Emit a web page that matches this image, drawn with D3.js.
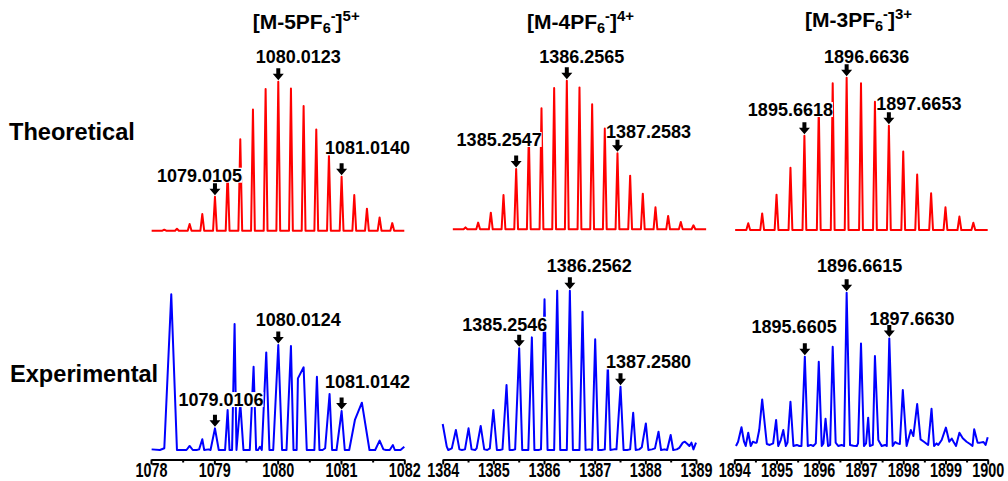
<!DOCTYPE html>
<html><head><meta charset="utf-8">
<script src="https://cdn.jsdelivr.net/npm/d3@7"></script>
<style>
body{margin:0;background:#fff;}
svg{display:block;}
text{font-family:"Liberation Sans",Arial,sans-serif;font-weight:bold;fill:#000;}
</style>
</head><body>
<svg id="c" width="1008" height="481"></svg>
<script>
// ---------------- DATA ----------------
const rowLabels = ["Theoretical", "Experimental"];
const ionCharges = ["5", "4", "3"];           // [M-nPF6-]n+

const xDomain1 = [1078, 1082];
const xDomain2 = [1384, 1389];
const xDomain3 = [1894, 1900];
const majorTicks1 = [1078, 1079, 1080, 1081, 1082];
const majorTicks2 = [1384, 1385, 1386, 1387, 1388, 1389];
const majorTicks3 = [1894, 1895, 1896, 1897, 1898, 1899, 1900];
const minorTicks1 = [1078.5, 1079.5, 1080.5, 1081.5];
const minorTicks2 = [1384.5, 1385.5, 1386.5, 1387.5, 1388.5];
const minorTicks3 = [1894.5, 1895.5, 1896.5, 1897.5, 1898.5, 1899.5];

// Theoretical isotope patterns (relative intensity %)
const theoRange1 = [1078.01, 1082.0];
const theoMz1 = [1078.21,1078.41,1078.61,1078.81,1079.01,1079.21,1079.41,1079.61,1079.81,1080.01,1080.21,1080.41,1080.61,1080.81,1081.01,1081.21,1081.41,1081.61,1081.81];
const theoInt1 = [0.7,1.3,4.5,11.2,22.8,40,61.3,81.4,95.1,100,95.5,83.7,68,51.2,36.2,23.9,14.8,8.9,5.1];

const theoRange2 = [1384.2, 1389.2];
const theoMz2 = [1384.45,1384.70,1384.95,1385.20,1385.45,1385.70,1385.95,1386.20,1386.45,1386.70,1386.95,1387.20,1387.45,1387.70,1387.95,1388.20,1388.45,1388.70,1388.95];
const theoInt2 = [1.3,4.5,11.2,23.1,40.6,64,81.4,95.1,100,95.5,84.1,67.9,51.1,36.1,24,14.8,9,4.9,2.7];

const theoRange3 = [1894.02, 1900.0];
const theoMz3 = [1894.33,1894.66,1895.00,1895.33,1895.66,1896.00,1896.33,1896.66,1897.00,1897.33,1897.66,1898.00,1898.33,1898.66,1899.00,1899.33,1899.66];
const theoInt3 = [4.4,10.9,23.2,40.9,61.9,81,96.3,100,96.3,84.2,68.5,51.6,36.5,24.1,14.9,8.8,4.8];

// Experimental spectra (relative intensity %)
const expMz1 = [1078.01,1078.14,1078.21,1078.32,1078.41,1078.56,1078.61,1078.66,1078.72,1078.76,1078.81,1078.84,1078.91,1078.94,1079.01,1079.07,1079.17,1079.21,1079.24,1079.28,1079.32,1079.35,1079.41,1079.46,1079.56,1079.62,1079.66,1079.69,1079.72,1079.75,1079.82,1079.87,1079.93,1080.01,1080.07,1080.14,1080.21,1080.25,1080.30,1080.32,1080.41,1080.46,1080.54,1080.58,1080.62,1080.66,1080.71,1080.75,1080.82,1080.86,1080.93,1081.01,1081.06,1081.13,1081.22,1081.33,1081.45,1081.54,1081.61,1081.67,1081.71,1081.74,1081.77,1081.82,1081.85,1081.91,1081.94,1082.00];
const expInt1 = [0.4,0,1.1,100,0,0,2.6,0,0,0.4,6.9,0,0.4,0,13.9,0,0,25.7,0,0,80.9,0,30,0,0,53.5,0,0,2.1,0,62.7,0,0,67.4,0,0,66.8,0,0,46,53.1,0,0,0,47.1,0,0,1.1,36,0,0,25,0,0,19.3,30.4,0,0,6,0.4,0,0,0,3.2,0,0,0,2.1];

const expMz2 = [1384.00,1384.08,1384.11,1384.18,1384.26,1384.33,1384.38,1384.44,1384.51,1384.57,1384.64,1384.67,1384.75,1384.82,1384.88,1384.93,1385.00,1385.07,1385.13,1385.18,1385.26,1385.32,1385.38,1385.43,1385.51,1385.57,1385.63,1385.69,1385.76,1385.81,1385.89,1385.94,1386.01,1386.07,1386.15,1386.20,1386.26,1386.32,1386.38,1386.45,1386.51,1386.57,1386.64,1386.70,1386.76,1386.82,1386.89,1386.95,1387.01,1387.07,1387.14,1387.20,1387.26,1387.31,1387.38,1387.43,1387.51,1387.57,1387.64,1387.70,1387.76,1387.81,1387.88,1387.93,1388.01,1388.06,1388.13,1388.19,1388.26,1388.31,1388.38,1388.43,1388.50,1388.55,1388.62,1388.67,1388.74,1388.78,1388.83,1388.87,1388.91,1388.95,1389.00];
const expInt2 = [16.3,2.1,0,1.0,12.6,0.4,0,0.4,13.6,0.4,0,1.0,15.1,0.4,0,1.0,25.1,0,0,0.4,40.8,0,0,0.4,63.8,0,0,0,70.7,0,0,0.4,94.6,0,0,0,100,0,0,0,100,0,0,0,86.8,0,0.4,0,69.5,0,0,0.4,54,0,0.4,0.4,39.7,0,0,0.4,23.4,0,0.4,1.7,16.7,0,0.4,1.0,11.5,0,0.4,0,9.4,0,0.4,1.3,4.6,5.2,3.8,2.5,4.6,0.4,4.6];

const expMz3 = [1894.04,1894.09,1894.17,1894.23,1894.27,1894.33,1894.39,1894.44,1894.49,1894.53,1894.59,1894.66,1894.77,1894.84,1894.92,1894.99,1895.04,1895.10,1895.16,1895.22,1895.26,1895.33,1895.40,1895.48,1895.54,1895.59,1895.67,1895.74,1895.81,1895.87,1895.93,1896.00,1896.07,1896.11,1896.16,1896.22,1896.27,1896.33,1896.40,1896.46,1896.54,1896.60,1896.66,1896.74,1896.82,1896.90,1896.93,1897.00,1897.07,1897.12,1897.17,1897.21,1897.28,1897.33,1897.41,1897.49,1897.57,1897.61,1897.67,1897.75,1897.81,1897.86,1897.92,1897.99,1898.08,1898.18,1898.24,1898.33,1898.41,1898.49,1898.59,1898.67,1898.73,1898.79,1898.83,1898.91,1899.01,1899.09,1899.15,1899.19,1899.25,1899.33,1899.41,1899.50,1899.58,1899.64,1899.68,1899.76,1899.82,1899.90,1899.95,1900.00];
const expInt3 = [0,2.8,12.2,2.8,0,8.7,0,2.8,2.2,2.2,10.4,30.4,1.3,0.7,1.7,17.0,0,3.9,10.4,0,2.2,28.9,0,0.7,0,0,58.3,0,0.7,0,1.7,55.0,0,1.7,17.8,0,0.7,64.8,2.2,0,0.7,0,100,0.7,0.2,0,1.7,66.9,0,1.7,18.5,0,0.7,58.7,3.9,0,0.7,0,70.2,0,2.6,1.7,1.3,36.5,0,10.4,6.5,27.4,4.3,2.8,0.7,24.3,0,1.7,0.7,3.9,12.0,2.8,4.8,2.8,0,8.7,5.0,2.8,1.3,0,10.9,2.2,2.2,2.6,0.7,5.7];

// Annotated peaks (plotted position, label)
const theoAnnMz1 = [1079.01, 1080.01, 1081.01];
const theoAnnText1 = ["1079.0105", "1080.0123", "1081.0140"];
const theoAnnMz2 = [1385.45, 1386.45, 1387.45];
const theoAnnText2 = ["1385.2547", "1386.2565", "1387.2583"];
const theoAnnMz3 = [1895.66, 1896.66, 1897.66];
const theoAnnText3 = ["1895.6618", "1896.6636", "1897.6653"];
const expAnnMz1 = [1079.01, 1080.01, 1081.01];
const expAnnText1 = ["1079.0106", "1080.0124", "1081.0142"];
const expAnnMz2 = [1385.51, 1386.51, 1387.51];
const expAnnText2 = ["1385.2546", "1386.2562", "1387.2580"];
const expAnnMz3 = [1895.67, 1896.66, 1897.67];
const expAnnText3 = ["1895.6605", "1896.6615", "1897.6630"];

// ---------------- LAYOUT (positions / styles) ----------------
const layout = {
  panelX: [[151, 404.3], [442.7, 696], [734.3, 987.7]],
  topY: [[230.7, 81.7], [229.3, 80.7], [230, 77.7]],
  botY: [[450, 294.3], [450, 290.7], [446, 292.7]],
  axisY: 459.5,
  titleX: [252.7, 527, 805],
  titleY: [29.3, 29.3, 27],
  rowLabelPos: [[9, 140], [10, 381.7]],
  theoLabelOff: [
    [[-15.5, -15], [20, -19], [26, -22.4]],
    [[-17, -23], [15, -18], [31, -15.6]],
    [[-14, -19.7], [20, -15], [30, -15.7]]
  ],
  expLabelOff: [
    [[6, -22.3], [20, -19], [26, -22.7]],
    [[-14.5, -17.6], [19.5, -19], [28, -18.3]],
    [[-10.7, -24], [13, -21], [22.7, -13.3]]
  ],
  red: "#ff0000",
  blue: "#0000ff"
};

const panels = [
  {dom: xDomain1, maj: majorTicks1, min: minorTicks1, tR: theoRange1, tMz: theoMz1, tInt: theoInt1, eMz: expMz1, eInt: expInt1, taMz: theoAnnMz1, taT: theoAnnText1, eaMz: expAnnMz1, eaT: expAnnText1},
  {dom: xDomain2, maj: majorTicks2, min: minorTicks2, tR: theoRange2, tMz: theoMz2, tInt: theoInt2, eMz: expMz2, eInt: expInt2, taMz: theoAnnMz2, taT: theoAnnText2, eaMz: expAnnMz2, eaT: expAnnText2},
  {dom: xDomain3, maj: majorTicks3, min: minorTicks3, tR: theoRange3, tMz: theoMz3, tInt: theoInt3, eMz: expMz3, eInt: expInt3, taMz: theoAnnMz3, taT: theoAnnText3, eaMz: expAnnMz3, eaT: expAnnText3}
];

// ---------------- DRAW ----------------
const svg = d3.select("#c");
svg.append("rect").attr("width", 1008).attr("height", 481).attr("fill", "#fff");

// Detect a condensed font for the axis tick labels
const probe = (fam) => {
  const t = svg.append("text").attr("font-size", 20).style("font-family", fam).text("1078");
  const w = t.node().getComputedTextLength(); t.remove(); return w;
};
const wReg = probe("'Liberation Sans'");
const wNar = probe("'Liberation Sans Narrow', 'Liberation Sans'");
const hasNarrow = wNar < wReg * 0.95;
const tickFont = hasNarrow ? "'Liberation Sans Narrow'" : "'Liberation Sans'";
const tickScale = 32 / (hasNarrow ? wNar : wReg);

// Row labels
rowLabels.forEach((t, i) => {
  svg.append("text").attr("x", layout.rowLabelPos[i][0]).attr("y", layout.rowLabelPos[i][1])
    .attr("font-size", 23.6).text(t);
});

function annotate(g, x, y, mzArr, intArr, annMz, annText, offs) {
  annMz.forEach((m, k) => {
    let best = 0;
    mzArr.forEach((v, j) => { if (Math.abs(v - m) < Math.abs(mzArr[best] - m)) best = j; });
    const px = x(mzArr[best]);
    const top = y(intArr[best]);
    const lx = px + offs[k][0], ly = top + offs[k][1];
    const lg = g.append("g");
    const bg = lg.append("rect").attr("fill", "#fff");
    const t = lg.append("text").attr("x", lx).attr("y", ly).attr("text-anchor", "middle")
      .attr("font-size", 18).text(annText[k]);
    const bb = t.node().getBBox();
    bg.attr("x", bb.x).attr("width", bb.width).attr("y", ly - 14).attr("height", 15);
    const tip = top - 1.5;
    g.append("path")
      .attr("d", `M${px - 2},${tip - 12}H${px + 2}V${tip - 6.5}H${px + 5.5}L${px},${tip}L${px - 5.5},${tip - 6.5}H${px - 2}Z`)
      .attr("fill", "#000");
  });
}

panels.forEach((p, i) => {
  const x = d3.scaleLinear().domain(p.dom).range(layout.panelX[i]);
  const yT = d3.scaleLinear().domain([0, 100]).range(layout.topY[i]);
  const yB = d3.scaleLinear().domain([0, 100]).range(layout.botY[i]);
  const g = svg.append("g");

  // Theoretical profile: each stick drawn as a narrow peak
  const hw = x.invert(x(p.dom[0]) + 1.9) - p.dom[0];
  const tPts = [[p.tR[0], 0]];
  p.tMz.forEach((m, j) => { tPts.push([m - hw, 0], [m, p.tInt[j]], [m + hw, 0]); });
  tPts.push([p.tR[1], 0]);
  g.append("path").datum(tPts)
    .attr("d", d3.line().x(d => x(d[0])).y(d => yT(d[1])))
    .attr("fill", "none").attr("stroke", layout.red).attr("stroke-width", 2)
    .attr("stroke-linejoin", "round");

  // Experimental
  g.append("path").datum(d3.zip(p.eMz, p.eInt))
    .attr("d", d3.line().x(d => x(d[0])).y(d => yB(d[1])))
    .attr("fill", "none").attr("stroke", layout.blue).attr("stroke-width", 2)
    .attr("stroke-linejoin", "round");

  // Axis
  const ax = g.append("g").attr("transform", `translate(0,${layout.axisY})`)
    .call(d3.axisBottom(x).tickValues(p.maj).tickSize(5).tickSizeOuter(0).tickFormat(d3.format("d")));
  ax.attr("font-size", null).attr("font-family", null);
  ax.select(".domain").attr("stroke", "#000").attr("stroke-width", 2);
  ax.selectAll(".tick line").attr("stroke", "#000").attr("stroke-width", 2);
  ax.selectAll(".tick text").attr("y", 17.5).attr("dy", 0)
    .style("font-family", tickFont).style("font-size", "20px").style("font-weight", "bold").attr("fill", "#000")
    .attr("transform", `scale(${tickScale},1)`);
  const axm = g.append("g").attr("transform", `translate(0,${layout.axisY})`)
    .call(d3.axisBottom(x).tickValues(p.min).tickSize(3).tickSizeOuter(0).tickFormat(""));
  axm.select(".domain").remove();
  axm.selectAll(".tick line").attr("stroke", "#000").attr("stroke-width", 2);

  // Annotations
  annotate(g, x, yT, p.tMz, p.tInt, p.taMz, p.taT, layout.theoLabelOff[i]);
  annotate(g, x, yB, p.eMz, p.eInt, p.eaMz, p.eaT, layout.expLabelOff[i]);

  // Title [M-nPF6-]n+
  const tt = svg.append("text").attr("x", layout.titleX[i]).attr("y", layout.titleY[i]).attr("font-size", 21);
  tt.append("tspan").text("[M-" + ionCharges[i] + "PF");
  tt.append("tspan").attr("font-size", 14.5).attr("dy", 4).text("6");
  tt.append("tspan").attr("font-size", 14.5).attr("dy", -12).text("-");
  tt.append("tspan").attr("dy", 8).text("]");
  tt.append("tspan").attr("font-size", 15).attr("dy", -8).text(ionCharges[i] + "+");
});
</script>
</body></html>
